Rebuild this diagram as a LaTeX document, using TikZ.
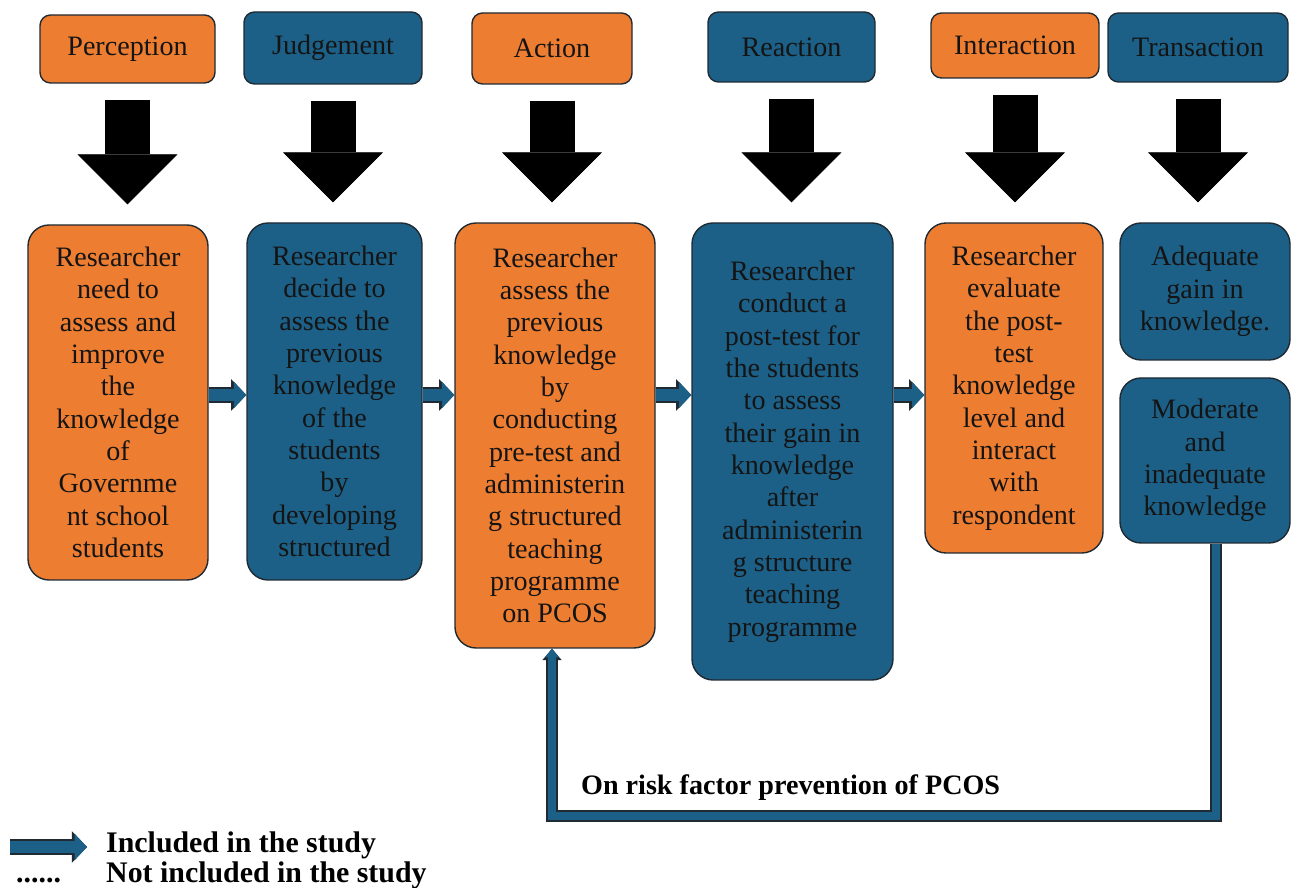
\documentclass[tikz,border=0pt]{standalone}
\usepackage{fontspec}
\setmainfont{Liberation Serif}
\usepackage{tikz}
\usetikzlibrary{arrows.meta,positioning,calc}
\definecolor{orng}{HTML}{ED7D31}
\definecolor{blu}{HTML}{1C6087}
\definecolor{edge}{HTML}{1F2A33}
\definecolor{txt}{HTML}{141414}

\begin{document}
\begin{tikzpicture}[font=\fontsize{16}{18.4}\selectfont,
  box/.style={draw=edge,line width=0.8pt,rounded corners=6pt,align=center,text=txt,inner sep=0pt},
  ob/.style={box,fill=orng},
  bb/.style={box,fill=blu},
  big/.style={rounded corners=12pt},
  down/.style={line width=0.9cm,-{Triangle[width=2cm,length=1cm,line width=0.4pt]},shorten <=0.32cm,shorten >=0.4cm},
  blk/.style={draw=blu,line width=7pt,-{Triangle[width=15pt,length=7pt,line width=0pt]},
    preaction={draw=edge,line width=8.6pt,-{Triangle[width=18pt,length=8.6pt,line width=0pt]}}},
  loopln/.style={draw=blu,line width=4.6pt,-{Triangle[width=8pt,length=5pt,line width=0pt]},
    preaction={draw=edge,line width=6.4pt,-{Triangle[width=11pt,length=6.5pt,line width=0pt]}}},
  lgd/.style={font=\fontsize{17}{20}\selectfont\bfseries,anchor=base west}]
\useasboundingbox (0,0) rectangle (26.08,-17.76);
% stages
\node[ob,minimum width=3.5cm,minimum height=1.36cm] (per) at (2.55,-0.98) {Perception};
\node[bb,minimum width=3.56cm,minimum height=1.44cm] (jud) at (6.66,-0.96) {Judgement};
\node[ob,minimum width=3.2cm,minimum height=1.42cm] (act) at (11.04,-0.97) {Action};
\node[bb,minimum width=3.34cm,minimum height=1.4cm] (rea) at (15.83,-0.94) {Reaction};
\node[ob,minimum width=3.36cm,minimum height=1.3cm] (int) at (20.3,-0.91) {Interaction};
\node[bb,minimum width=3.6cm,minimum height=1.38cm] (tra) at (23.96,-0.95) {Transaction};
% steps
\node[ob,big,minimum width=3.6cm,minimum height=7.1cm] (b1) at (2.36,-8.05)
  {Researcher\\need to\\assess and\\improve\\the\\knowledge\\of\\Governme\\nt school\\students};
\node[bb,big,minimum width=3.5cm,minimum height=7.14cm] (b2) at (6.69,-8.03)
  {Researcher\\decide to\\assess the\\previous\\knowledge\\of the\\students\\by\\developing\\structured};
\node[ob,big,minimum width=4cm,minimum height=8.5cm] (b3) at (11.1,-8.71)
  {Researcher\\assess the\\previous\\knowledge\\by\\conducting\\pre-test and\\administerin\\g structured\\teaching\\programme\\on PCOS};
\node[bb,big,minimum width=4.02cm,minimum height=9.14cm] (b4) at (15.85,-9.03)
  {Researcher\\conduct a\\post-test for\\the students\\to assess\\their gain in\\knowledge\\after\\administerin\\g structure\\teaching\\programme};
\node[ob,big,minimum width=3.56cm,minimum height=6.6cm] (b5) at (20.28,-7.76)
  {Researcher\\evaluate\\the post-\\test\\knowledge\\level and\\interact\\with\\respondent};
\node[bb,big,minimum width=3.4cm,minimum height=2.74cm] (b6a) at (24.1,-5.83) {Adequate\\gain in\\knowledge.};
\node[bb,big,minimum width=3.4cm,minimum height=3.3cm] (b6b) at (24.1,-9.21) {Moderate\\and\\inadequate\\knowledge};
% arrows
\foreach \t/\b in {per/b1,jud/b2,act/b3,rea/b4,int/b5,tra/b6a}
  \draw[down] (\t.south) -- (\t.south |- \b.north);
\coordinate (lvl) at (0,-7.9);
\foreach \a/\b in {b1/b2,b2/b3,b3/b4,b4/b5}
  \draw[blk] (\a.east |- lvl) -- (\b.west |- lvl);
% feedback loop
\coordinate (fb) at (24.32,-16.32);
\coordinate (fa) at (11.04,-16.32);
\draw[loopln] (b6b.south -| fb) -- (fb) -- (fa) -- (b3.south -| fa);
\node[font=\fontsize{16}{18.4}\selectfont\bfseries,anchor=base west] (risk) at (11.5,-15.9) {On risk factor prevention of PCOS};
% legend
\coordinate (l1) at (0.2,-16.94);
\coordinate (l2) at (1.74,-16.94);
\draw[blk] (l1) -- (l2);
\node[lgd] (inc) at (2.0,-17.06) {Included in the study};
\node[lgd] (dots) at (0.2,-17.64) {......};
\node[lgd] (exc) at (2.0,-17.64) {Not included in the study};
\end{tikzpicture}
\end{document}
